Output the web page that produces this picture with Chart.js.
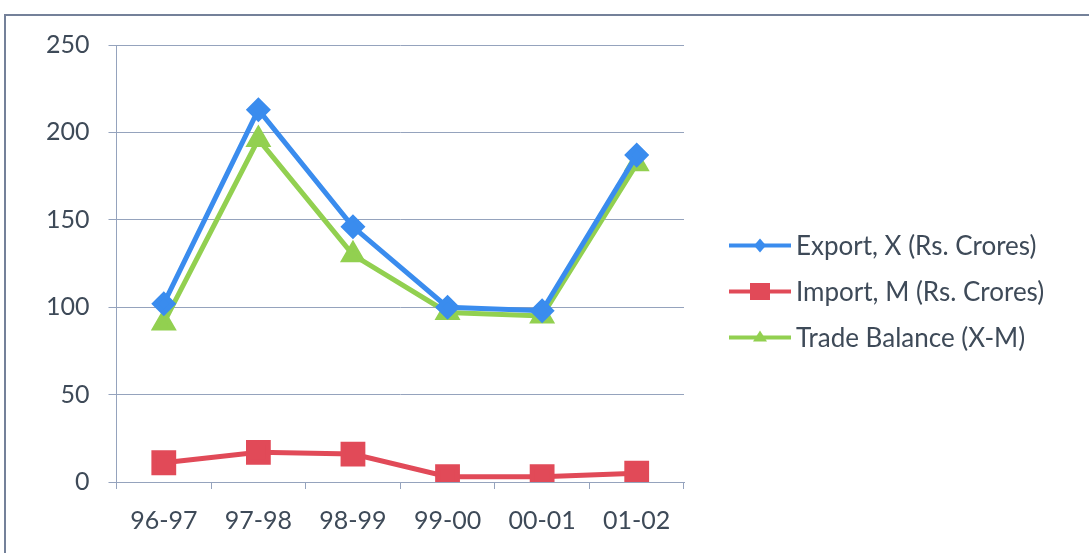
<!DOCTYPE html>
<html>
<head>
<meta charset="utf-8">
<script src="https://cdn.jsdelivr.net/npm/chart.js@4.4.1/dist/chart.umd.min.js"></script>
<style>
  html, body { margin: 0; padding: 0; background: #ffffff; }
  #wrap { position: relative; width: 1089px; height: 553px; }
</style>
</head>
<body>
<div id="wrap"><canvas id="chart" width="1089" height="553"></canvas></div>
<script>
// Financial years
const years = ['96-97', '97-98', '98-99', '99-00', '00-01', '01-02'];

// Values in Rs. Crores
const exportValues = [102, 213, 146, 100, 98, 187];
const importValues = [11, 17, 16, 3, 3, 5];
const tradeBalance = [91, 196, 130, 97, 95, 182];

// Value axis ticks
const yTicks = [0, 50, 100, 150, 200, 250];

const seriesNames = ['Export, X (Rs. Crores)', 'Import, M (Rs. Crores)', 'Trade Balance (X-M)'];

const BLUE = '#3a8cee';
const RED = '#e14a58';
const GREEN = '#92d050';
const GRID = '#95a3bd';
const TEXT = '#3e4a58';
const FONT = 'Lato, "Open Sans", sans-serif';
const TICK_SIZE = 25;
const KEY_SIZE = 26;

// Line-with-marker legend swatch
function drawSwatch(ctx, x, y, color, style) {
  ctx.save();
  ctx.strokeStyle = color;
  ctx.fillStyle = color;
  ctx.lineWidth = 4;
  ctx.beginPath(); ctx.moveTo(x, y); ctx.lineTo(x + 62, y); ctx.stroke();
  const cx = x + 31;
  ctx.beginPath();
  if (style === 'rectRot') {
    ctx.moveTo(cx, y - 7); ctx.lineTo(cx + 6, y); ctx.lineTo(cx, y + 7); ctx.lineTo(cx - 6, y);
  } else if (style === 'rect') {
    ctx.rect(cx - 10, y - 8.5, 20, 17);
  } else {
    ctx.moveTo(cx, y - 7); ctx.lineTo(cx + 7, y + 4); ctx.lineTo(cx - 7, y + 4);
  }
  ctx.closePath(); ctx.fill();
  ctx.restore();
}

// Outer frame along top and left, plus the series key on the right
const framePlugin = {
  id: 'frame',
  beforeDraw(chart) {
    const ctx = chart.ctx;
    ctx.save();
    ctx.fillStyle = '#ffffff';
    ctx.fillRect(0, 0, chart.width, chart.height);
    ctx.strokeStyle = '#748199';
    ctx.lineWidth = 2;
    ctx.beginPath();
    ctx.moveTo(5, chart.height);
    ctx.lineTo(5, 15);
    ctx.lineTo(chart.width, 15);
    ctx.stroke();
    ctx.restore();
  },
  afterDraw(chart) {
    const ctx = chart.ctx;
    const area = chart.chartArea;
    const x0 = area.right + 45;
    const midY = (area.top + area.bottom) / 2 + 28;
    const gap = 46;
    ctx.save();
    ctx.font = KEY_SIZE + 'px ' + FONT;
    ctx.textBaseline = 'middle';
    ctx.textAlign = 'left';
    chart.data.datasets.forEach((ds, i) => {
      const y = midY + (i - 1) * gap;
      drawSwatch(ctx, x0, y, ds.borderColor, ds.pointStyle);
      ctx.fillStyle = TEXT;
      ctx.fillText(ds.label, x0 + 67, y + 1);
    });
    ctx.restore();
  }
};

new Chart(document.getElementById('chart'), {
  type: 'line',
  data: {
    labels: years,
    datasets: [
      {
        label: seriesNames[0], data: exportValues,
        borderColor: BLUE, backgroundColor: BLUE, borderWidth: 5,
        pointStyle: 'rectRot', pointRadius: 9, pointHoverRadius: 9, tension: 0
      },
      {
        label: seriesNames[1], data: importValues,
        borderColor: RED, backgroundColor: RED, borderWidth: 5,
        pointStyle: 'rect', pointRadius: 14, pointHoverRadius: 14, tension: 0
      },
      {
        label: seriesNames[2], data: tradeBalance,
        borderColor: GREEN, backgroundColor: GREEN, borderWidth: 5,
        pointStyle: 'triangle', pointRadius: 10, pointHoverRadius: 10, tension: 0
      }
    ]
  },
  options: {
    responsive: false,
    animation: false,
    devicePixelRatio: 1,
    layout: { padding: { top: 45, left: 27, right: 405, bottom: 0 } },
    plugins: {
      tooltip: { enabled: false },
      legend: { display: false }
    },
    scales: {
      x: {
        offset: true,
        grid: {
          offset: true, drawOnChartArea: false, drawTicks: true,
          tickLength: 7, color: GRID
        },
        border: { color: GRID, width: 1 },
        ticks: { color: TEXT, font: { family: FONT, size: TICK_SIZE }, padding: 17, maxRotation: 0 }
      },
      y: {
        min: 0, max: 250,
        afterBuildTicks(axis) { axis.ticks = yTicks.map(v => ({ value: v })); },
        grid: { color: GRID, tickLength: 8, lineWidth: 1 },
        border: { color: GRID, width: 1 },
        ticks: { color: TEXT, font: { family: FONT, size: TICK_SIZE }, padding: 19 }
      }
    }
  },
  plugins: [framePlugin]
});
</script>
</body>
</html>
